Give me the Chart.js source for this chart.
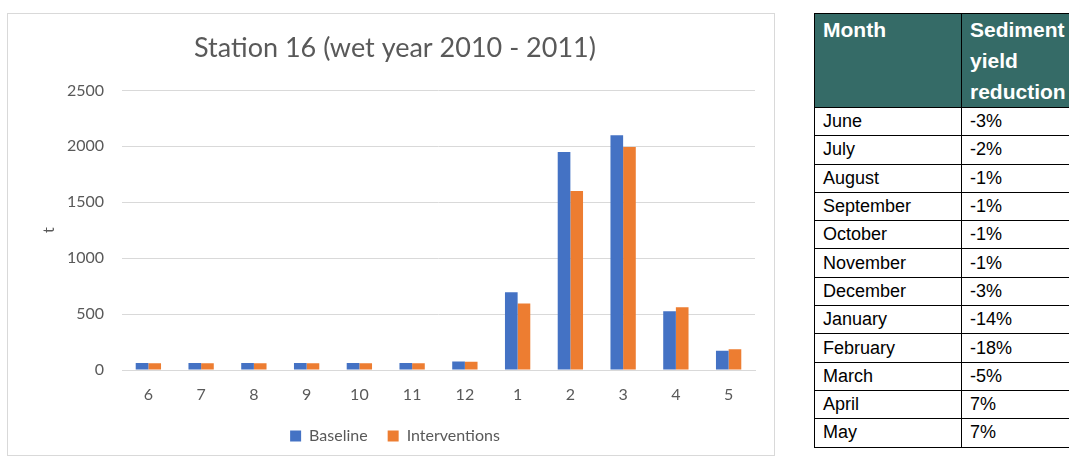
<!DOCTYPE html>
<html>
<head>
<meta charset="utf-8">
<script src="https://cdn.jsdelivr.net/npm/chart.js@4"></script>
<style>
  html, body { margin: 0; padding: 0; background: #fff; width: 1069px; height: 458px; overflow: hidden; }
  #frame { position: absolute; left: 7px; top: 13px; width: 768px; height: 443px; border: 1px solid #d9d9d9; box-sizing: border-box; }
  #wrap { position: absolute; left: 0; top: 0; width: 790px; height: 458px; }
  #tbl { position: absolute; left: 814px; top: 13px; width: 275px; table-layout: fixed; border-collapse: collapse; font-family: "Liberation Sans", Arial, sans-serif; color: #000; }
  #tbl th, #tbl td { border: 1px solid #000; text-align: left; padding: 0 0 0 8px; white-space: nowrap; overflow: hidden; }
  #tbl th { background: #356b67; color: #fff; font-weight: bold; font-size: 21px; line-height: 31px; vertical-align: top; height: 93px; padding-top: 0; }
  #tbl td { font-size: 18px; height: 27.3px; line-height: 27px; }
</style>
</head>
<body>
<div id="frame"></div>
<div id="wrap"><canvas id="stationChart"></canvas></div>
<table id="tbl"></table>
<script>
// chart data (wet year 2010 - 2011, months Jun..May)
var months = ['6', '7', '8', '9', '10', '11', '12', '1', '2', '3', '4', '5'];
var baseline = [62, 62, 62, 62, 62, 62, 75, 695, 1950, 2100, 525, 173];
var interventions = [60, 61, 61, 61, 61, 61, 73, 595, 1600, 1995, 562, 185];
var yTicks = [0, 500, 1000, 1500, 2000, 2500];

// table data
var tableMonths = ['June', 'July', 'August', 'September', 'October', 'November',
  'December', 'January', 'February', 'March', 'April', 'May'];
var tableReduction = ['-3%', '-2%', '-1%', '-1%', '-1%', '-1%', '-3%', '-14%', '-18%', '-5%', '7%', '7%'];

// build table
var tbl = document.getElementById('tbl');
var html = '<colgroup><col style="width:147px"><col></colgroup>';
html += '<tr><th>Month</th><th>Sediment<br>yield<br>reduction</th></tr>';
for (var i = 0; i < tableMonths.length; i++) {
  html += '<tr><td>' + tableMonths[i] + '</td><td>' + tableReduction[i] + '</td></tr>';
}
tbl.innerHTML = html;

var grey = '#595959';
var ctx = document.getElementById('stationChart').getContext('2d');
var stationChart = new Chart(ctx, {
  type: 'bar',
  data: {
    labels: months,
    datasets: [
      { label: 'Baseline', data: baseline, backgroundColor: '#4472c4', borderWidth: 0 },
      { label: 'Interventions', data: interventions, backgroundColor: '#ed7d31', borderWidth: 0 }
    ]
  },
  options: {
    responsive: true,
    maintainAspectRatio: false,
    animation: false,
    categoryPercentage: 0.48,
    barPercentage: 1.0,
    layout: { padding: { left: 35, right: 35, top: 0, bottom: 4 } },
    plugins: {
      title: {
        display: true,
        text: 'Station 16 (wet year 2010 - 2011)',
        color: grey,
        font: { family: 'Lato', size: 27, weight: 'normal' },
        padding: { top: 32, bottom: 26 }
      },
      legend: {
        position: 'bottom',
        labels: {
          color: grey,
          font: { family: 'Lato', size: 16 },
          boxWidth: 11,
          boxHeight: 11,
          padding: 20
        }
      },
      tooltip: { enabled: false }
    },
    scales: {
      x: {
        clip: false,
        afterFit: function(axis) { axis.height = 38; },
        grid: { display: false, drawTicks: false },
        border: { display: true, color: '#d9d9d9', width: 1 },
        ticks: { color: grey, font: { family: 'Lato', size: 16 }, padding: 15 }
      },
      y: {
        min: 0,
        max: 2500,
        afterBuildTicks: function(axis) {
          axis.ticks = yTicks.map(function(v) { return { value: v }; });
        },
        afterFit: function(axis) { axis.width = 87; },
        grid: { color: '#d9d9d9', drawTicks: false },
        border: { display: false },
        ticks: {
          color: grey,
          font: { family: 'Lato', size: 16 },
          padding: 18,
          callback: function(v) { return String(v); }
        },
        title: { display: true, text: 't', color: grey, font: { family: 'Lato', size: 16 } }
      }
    }
  }
});
</script>
</body>
</html>
